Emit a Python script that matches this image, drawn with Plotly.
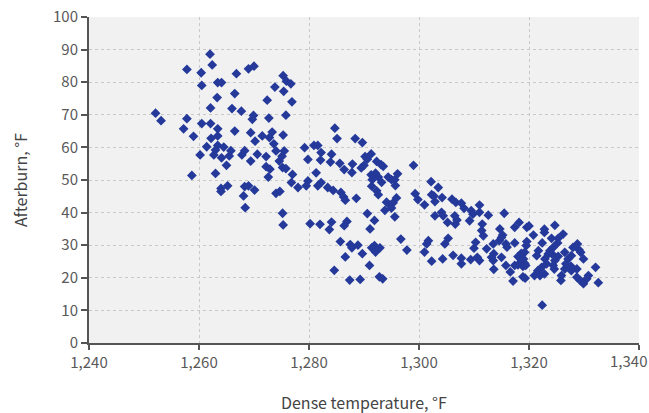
import plotly.graph_objects as go

dense_temp = [
    1262.0, 1262.4, 1257.8, 1260.4, 1260.5, 1263.4, 1264.1, 1266.8, 1266.5, 1263.3,
    1262.1, 1266.0, 1267.7, 1252.1, 1253.1, 1257.8, 1260.5, 1262.1, 1257.2, 1263.4,
    1266.5, 1259.0, 1263.4, 1262.2, 1261.4, 1263.4, 1264.5, 1263.0, 1262.7, 1265.8,
    1264.1, 1265.5, 1260.2, 1268.3, 1267.8, 1265.0, 1258.7, 1263.0, 1265.2, 1264.0,
    1268.3, 1269.0, 1269.4, 1269.4, 1264.0, 1268.1, 1270.1, 1268.4, 1274.0, 1274.7,
    1275.2, 1275.3,
    1269.0, 1270.0, 1275.3, 1275.9, 1276.7, 1273.8, 1275.4, 1276.9, 1272.4, 1269.9,
    1269.7, 1272.7, 1275.8, 1284.7, 1285.1, 1270.2, 1271.5, 1273.3, 1272.8, 1273.6,
    1275.3, 1270.6, 1272.2, 1274.0, 1275.1, 1275.5, 1274.6, 1272.2, 1272.9, 1275.2,
    1275.8, 1277.0, 1272.6, 1279.2, 1280.9, 1281.6, 1282.2, 1284.1, 1279.8, 1282.1,
    1283.9, 1285.6, 1281.3, 1276.8, 1279.8, 1279.5, 1282.2, 1281.6, 1283.4, 1278.0,
    1288.4, 1289.7, 1287.9, 1286.4, 1287.8, 1290.2, 1291.3, 1290.6, 1289.5, 1290.0,
    1292.3, 1293.1, 1293.5, 1299.0, 1291.3, 1292.1, 1292.6, 1291.5, 1293.2, 1294.4,
    1295.0, 1296.1, 1295.6, 1295.7, 1291.4, 1292.3, 1292.6, 1284.4, 1285.8, 1286.3,
    1286.6, 1288.6, 1294.1, 1294.7, 1295.3, 1295.9, 1293.8, 1295.0, 1295.6, 1299.3,
    1299.8, 1301.0, 1302.3, 1302.2, 1280.2, 1282.0, 1283.7, 1284.1, 1286.4, 1286.9,
    1290.6, 1291.9, 1291.1, 1285.7, 1287.5, 1287.8, 1288.9, 1289.7, 1286.6, 1291.4,
    1291.9, 1292.1, 1292.9, 1296.7, 1297.8, 1301.0, 1291.0, 1284.6, 1287.4, 1289.3,
    1292.8, 1293.4,
    1303.5, 1302.7, 1302.9, 1304.2, 1306.0, 1306.7, 1307.7, 1308.2, 1311.0, 1309.5,
    1309.8, 1311.0, 1312.6, 1315.5, 1302.9, 1304.1, 1304.4, 1305.2, 1306.5, 1306.9,
    1306.6, 1309.2, 1311.5, 1311.4, 1311.7, 1314.7, 1317.4, 1318.2, 1319.6, 1315.2,
    1301.7, 1301.4, 1305.3, 1304.7, 1302.3, 1304.3, 1306.2, 1307.7, 1307.7, 1309.4,
    1310.3, 1310.0, 1310.6, 1311.0, 1312.3, 1313.5, 1314.6, 1315.0, 1315.8, 1316.0,
    1313.6, 1313.2, 1313.5, 1315.0, 1313.6, 1315.8, 1316.6, 1317.1, 1317.4, 1318.0,
    1318.6, 1319.2, 1318.0, 1318.9, 1318.6, 1318.9, 1319.5, 1317.4,
    1324.7, 1322.8, 1322.8, 1326.2, 1320.0, 1320.8, 1319.6, 1322.4, 1324.1, 1325.3,
    1325.2, 1324.4, 1328.0, 1328.8, 1329.4, 1329.1, 1329.9, 1332.1, 1332.6, 1330.8,
    1330.5, 1329.9, 1329.3, 1328.7, 1328.7, 1327.7, 1327.6, 1326.5, 1325.9, 1325.8,
    1326.7, 1327.1, 1324.7, 1325.3, 1322.9, 1323.5, 1323.2, 1322.3, 1321.6, 1321.0,
    1322.0, 1322.8, 1319.3, 1321.7, 1321.4, 1319.2, 1319.0, 1319.4, 1322.4, 1324.4,
    1324.6, 1323.8, 1324.2, 1326.5, 1327.7,
]

afterburn = [
    88.6, 85.3, 83.9, 82.9, 79.0, 79.9, 79.9, 82.6, 76.5, 75.3,
    72.1, 71.9, 71.1, 70.5, 68.2, 68.8, 67.3, 67.3, 65.7, 65.7,
    65.0, 63.4, 63.5, 62.8, 60.2, 60.6, 60.1, 59.2, 57.7, 59.0,
    56.8, 57.4, 57.7, 59.0, 57.7, 54.5, 51.4, 52.0, 48.2, 47.4,
    48.0, 48.2, 64.5, 55.8, 46.5, 45.1, 46.9, 41.5, 45.9, 46.5,
    39.8, 36.2,
    84.1, 84.9, 82.0, 80.3, 79.5, 78.5, 77.2, 74.0, 74.5, 69.8,
    68.6, 69.0, 69.9, 65.9, 62.7, 61.9, 63.5, 64.7, 63.0, 61.1,
    63.8, 57.9, 57.2, 58.9, 57.3, 58.9, 55.8, 54.1, 53.3, 53.8,
    53.5, 51.7, 50.9, 59.9, 60.6, 60.6, 58.4, 57.9, 56.3, 56.1,
    55.5, 55.1, 52.2, 49.2, 49.7, 48.2, 49.2, 48.2, 47.7, 47.7,
    62.7, 61.5, 54.9, 53.2, 52.3, 57.2, 58.0, 56.4, 53.7, 54.5,
    55.7, 54.7, 54.2, 54.5, 51.6, 52.1, 50.9, 50.1, 49.3, 50.9,
    50.1, 51.9, 50.1, 48.3, 48.1, 46.7, 45.5, 46.8, 46.2, 44.8,
    43.8, 44.4, 43.2, 42.4, 43.0, 44.5, 40.7, 41.4, 38.7, 45.8,
    44.0, 42.4, 45.5, 49.5, 36.6, 36.4, 34.8, 37.1, 36.0, 37.3,
    39.7, 37.6, 35.0, 31.1, 30.2, 29.2, 30.0, 27.4, 26.4, 29.2,
    29.9, 27.9, 29.2, 31.9, 28.5, 27.9, 23.8, 22.3, 19.3, 19.5,
    20.3, 19.7,
    47.7, 45.1, 43.4, 44.6, 44.1, 43.1, 42.9, 41.3, 42.3, 40.6,
    39.5, 40.1, 39.2, 39.8, 39.0, 40.1, 39.0, 37.0, 39.0, 37.7,
    36.5, 37.5, 36.5, 34.5, 32.9, 35.0, 35.5, 37.0, 35.5, 33.1,
    31.4, 30.4, 32.1, 30.4, 25.1, 25.8, 26.9, 26.0, 24.3, 25.6,
    30.9, 29.1, 26.3, 25.3, 28.9, 30.4, 31.4, 32.4, 30.4, 29.4,
    27.4, 26.3, 25.3, 26.3, 22.6, 23.8, 21.8, 19.0, 30.7, 26.5,
    25.5, 24.5, 24.0, 23.5, 27.5, 20.3, 29.9, 23.8,
    36.1, 34.9, 33.9, 33.4, 35.9, 33.1, 31.1, 30.7, 32.1, 32.1,
    30.7, 29.3, 29.3, 30.4, 27.8, 28.6, 25.8, 23.2, 18.5, 20.7,
    19.7, 18.2, 19.2, 20.2, 22.7, 22.2, 23.6, 22.7, 20.7, 19.2,
    24.3, 25.8, 25.3, 26.6, 25.8, 27.3, 24.3, 23.2, 22.2, 20.7,
    20.7, 21.2, 19.9, 28.3, 26.8, 27.8, 25.8, 23.8, 11.6, 23.8,
    22.7, 28.3, 27.3, 27.8, 26.8,
]

x_ticks = [1240, 1260, 1280, 1300, 1320, 1340]
x_tick_labels = ["1,240", "1,260", "1,280", "1,300", "1,320", ""]
last_x_label = "1,340"
y_ticks = [0, 10, 20, 30, 40, 50, 60, 70, 80, 90, 100]
x_title = "Dense temperature, °F"
y_title = "Afterburn, °F"

FONT = "Noto Sans CJK KR"
tick_font = dict(family=FONT, size=15, color="#595959")
title_font = dict(family=FONT, size=16, color="#444444")

fig = go.Figure()
fig.add_trace(go.Scatter(
    x=dense_temp, y=afterburn, mode="markers",
    marker=dict(symbol="diamond", size=7.5, color="#24399a", line=dict(width=0)),
    showlegend=False, hoverinfo="skip",
))

fig.update_layout(
    width=649, height=413,
    margin=dict(l=89, r=10, t=17, b=70, autoexpand=False),
    paper_bgcolor="white", plot_bgcolor="#f1f1f1",
    font=dict(family=FONT, color="#555555"),
    xaxis=dict(
        range=[1240, 1340], tickvals=x_ticks, ticktext=x_tick_labels,
        showline=True, linecolor="#555555", linewidth=2,
        ticks="outside", ticklen=5, tickcolor="#555555", tickwidth=1.5,
        showgrid=True, gridcolor="#c8c8c8", griddash="dot", gridwidth=1,
        zeroline=False, tickfont=tick_font, automargin=False,
    ),
    yaxis=dict(
        range=[0, 100], tickvals=y_ticks,
        showline=True, linecolor="#555555", linewidth=2,
        ticks="outside", ticklen=6, tickcolor="#555555", tickwidth=1.5,
        showgrid=True, gridcolor="#c8c8c8", griddash="dot", gridwidth=1,
        zeroline=False, tickfont=tick_font, automargin=False,
    ),
    annotations=[
        dict(x=1, y=0, xref="paper", yref="paper", text=last_x_label, showarrow=False,
             xanchor="right", yanchor="top", xshift=10, yshift=-5, font=tick_font),
        dict(x=0.5, y=0, xref="paper", yref="paper", text=x_title, showarrow=False,
             xanchor="center", yanchor="middle", yshift=-59, font=title_font),
        dict(x=0, y=0.5, xref="paper", yref="paper", text=y_title, showarrow=False,
             xanchor="center", yanchor="middle", xshift=-69, textangle=-90, font=title_font),
    ],
)

fig.write_html(
    "out.html",
    config={"displayModeBar": False},
    post_script="document.body.style.margin='0px';document.body.style.padding='0px';",
)
